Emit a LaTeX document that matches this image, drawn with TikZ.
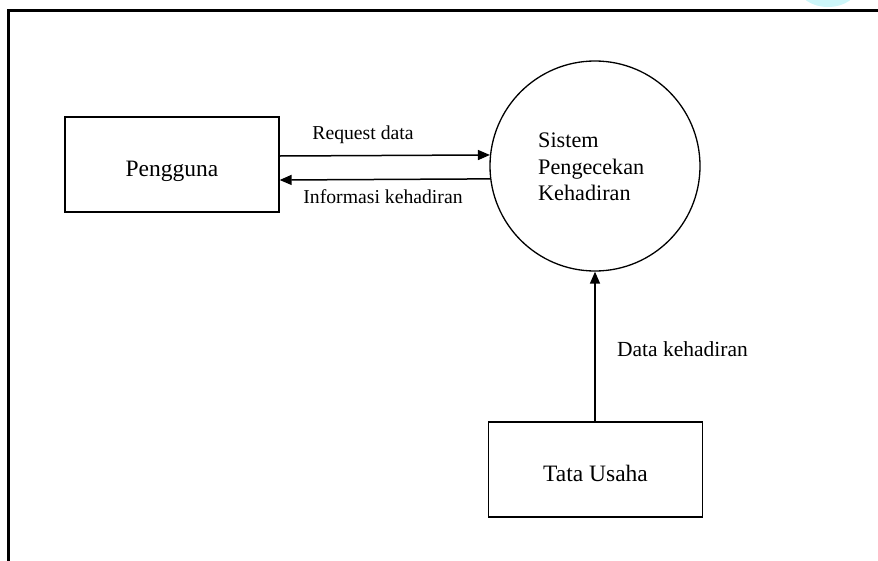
\documentclass[tikz,border=0pt]{standalone}
\usepackage{fontspec}
\setmainfont{Liberation Serif}
\usetikzlibrary{arrows.meta}
\definecolor{blobcyan}{RGB}{205,246,249}
\tikzset{
  entity/.style={draw, line width=1.3pt, minimum width=214pt, minimum height=95pt, inner sep=0pt,
    text height=24pt, text depth=0pt, font=\fontsize{23.5}{28}\selectfont},
  process/.style={draw, circle, line width=1.3pt, minimum size=210pt, inner sep=0pt},
  proctext/.style={align=left, inner sep=0pt, anchor=west, font=\fontsize{22.2}{26.5}\selectfont},
  flow/.style={line width=1.5pt, -{Triangle[length=12pt,width=10pt]}},
  flowlabel/.style={font=\fontsize{19.7}{23}\selectfont, inner sep=0pt, anchor=base}
}
\begin{document}
\begin{tikzpicture}[x=1pt,y=-1pt]
\useasboundingbox (0,0) rectangle (878,560);
\fill[blobcyan] (828,-14) ellipse [x radius=30, y radius=21];
\draw[line width=2.2pt] (8.5,561) -- (8.5,10.5) -- (879,10.5);

\node[entity] (peng) at (172,164.5) {Pengguna};
\node[process] (sys) at (595,166) {};
\node[proctext] (systext) at (538,167) {Sistem\\Pengecekan\\Kehadiran};
\node[entity] (tu) at (595.5,469.5) {Tata Usaha};

\draw[flow] (peng.east |- 0,156) -- (sys.174.5);
\draw[flow] (sys.187.7) -- (peng.east |- 0,180);
\draw[flow] (tu.north -| sys.south) -- (sys.south);

\node[flowlabel] (lreq) at (363,139) {Request data};
\node[flowlabel] (linfo) at (383,203) {Informasi kehadiran};
\node[flowlabel, font=\fontsize{21.5}{25}\selectfont] (ldata) at (682.5,356) {Data kehadiran};
\end{tikzpicture}
\end{document}
